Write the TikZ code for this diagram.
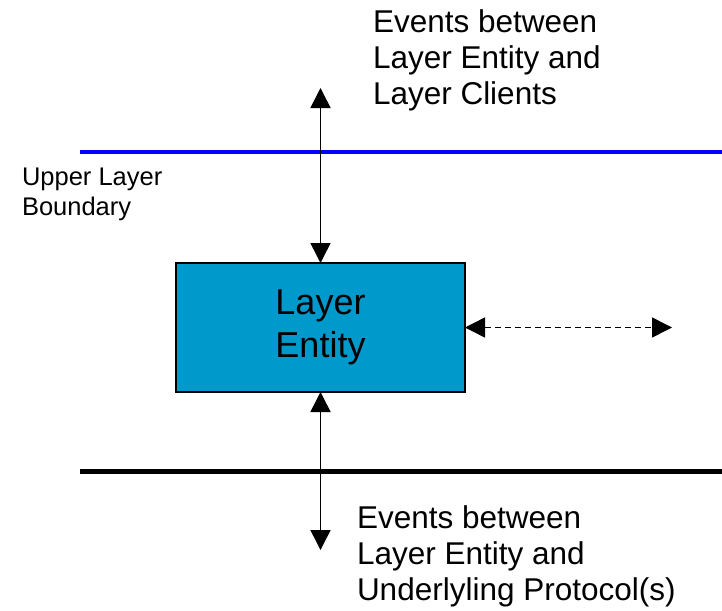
\documentclass[tikz,border=0pt]{standalone}
\usepackage{fontspec}
\setmainfont{Liberation Sans}
\usetikzlibrary{arrows.meta}
\definecolor{entityblue}{RGB}{0,153,204}
\definecolor{boundaryblue}{RGB}{0,0,255}
\begin{document}
\begin{tikzpicture}[x=1pt,y=-1pt,
  every node/.style={inner sep=0pt, outer sep=0pt},
  eventtext/.style={anchor=base west, align=left, font=\fontsize{31.5}{36}\selectfont},
  labeltext/.style={anchor=base west, align=left, font=\fontsize{25.5}{30}\selectfont},
  entitybox/.style={draw=black, line width=1.3pt, fill=entityblue,
    minimum width=289pt, minimum height=129pt, align=center,
    font=\fontsize{36}{43}\selectfont},
  flow/.style={line width=1.5pt, {Triangle[length=20pt,width=20pt]}-{Triangle[length=20pt,width=20pt]}},
  peerflow/.style={flow, dash pattern=on 6pt off 4pt},
  boundary/.style={line width=4.5pt}]
  \useasboundingbox (0,0) rectangle (722,610);

  % layer boundaries
  \coordinate (ubL) at (80,152);
  \coordinate (ubR) at (722,152);
  \coordinate (lbL) at (80,471);
  \coordinate (lbR) at (722,471);
  \draw[boundary, boundaryblue] (ubL) -- (ubR);
  \draw[boundary, black, line width=5pt] (lbL) -- (lbR);

  % the layer entity
  \node[entitybox] (box) at (320.5,327.5) {Layer\\Entity};

  % free ends of the event arrows
  \coordinate (upEnd) at (320.5,88);
  \coordinate (downEnd) at (320.5,550);
  \coordinate (peerEnd) at (672,327.5);

  \draw[flow] (box.north) -- (upEnd);
  \draw[flow] (box.south) -- (downEnd);
  \draw[peerflow] (box.east) -- (peerEnd);

  % labels (base anchor sits on the last line)
  \node[eventtext] (upText) at (373,104) {Events between\\Layer Entity and\\Layer Clients};
  \node[eventtext] (downText) at (357,600) {Events between\\Layer Entity and\\Underlyling Protocol(s)};
  \node[labeltext] (ubText) at (22,215) {Upper Layer\\Boundary};
\end{tikzpicture}
\end{document}
